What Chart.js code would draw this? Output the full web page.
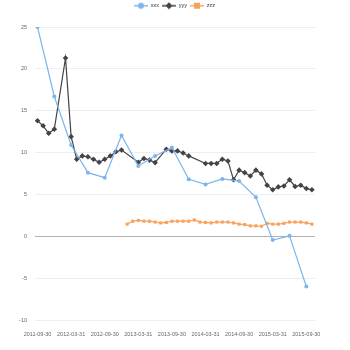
<!DOCTYPE html>
<html>
<head>
<meta charset="utf-8">
<script src="https://cdn.jsdelivr.net/npm/chart.js@4"></script>
<style>
  html, body { margin: 0; padding: 0; background: #fff; }
  #wrap { width: 350px; height: 350px; }
</style>
</head>
<body>
<div id="wrap"><canvas id="myChart"></canvas></div>
<script>
// months counted from 2011-09-30
const tickMonths = [0, 6, 12, 18, 24, 30, 36, 42, 48];
const tickLabels = ["2011-09-30", "2012-03-31", "2012-09-30", "2013-03-31", "2013-09-30",
                    "2014-03-31", "2014-09-30", "2015-03-31", "2015-09-30"];

const xxxMonths = [0, 3, 6, 9, 12, 15, 18, 21, 24, 27, 30, 33, 36, 39, 42, 45, 48];
const xxxValues = [25, 16.7, 10.9, 7.6, 7.0, 12.05, 8.4, 9.6, 10.6, 6.8, 6.2, 6.85, 6.6, 4.65, -0.45, 0.05, -6.0];

const yyyMonths = [0, 1, 2, 3, 5, 6, 7, 8, 9, 10, 11, 12, 13, 14, 15, 18, 19, 20, 21, 23, 24, 25, 26, 27,
                   30, 31, 32, 33, 34, 35, 36, 37, 38, 39, 40, 41, 42, 43, 44, 45, 46, 47, 48, 49];
const yyyValues = [13.8, 13.2, 12.3, 12.8, 21.3, 11.9, 9.2, 9.6, 9.5, 9.2, 8.85, 9.2, 9.6, 10.1, 10.3,
                   8.85, 9.3, 9.1, 8.8, 10.4, 10.2, 10.2, 9.95, 9.6,
                   8.7, 8.7, 8.7, 9.2, 9.0, 6.75, 7.9, 7.6, 7.2, 7.9, 7.45, 6.1, 5.55, 5.9, 6.0, 6.75, 5.95, 6.1, 5.7, 5.55];

const zzzMonths = [16, 17, 18, 19, 20, 21, 22, 23, 24, 25, 26, 27, 28, 29, 30, 31, 32, 33, 34, 35, 36,
                   37, 38, 39, 40, 41, 42, 43, 44, 45, 46, 47, 48, 49];
const zzzValues = [1.45, 1.8, 1.9, 1.8, 1.8, 1.7, 1.6, 1.65, 1.8, 1.8, 1.8, 1.8, 1.95, 1.7, 1.65, 1.6, 1.7,
                   1.7, 1.7, 1.6, 1.45, 1.4, 1.25, 1.25, 1.2, 1.55, 1.45, 1.45, 1.55, 1.7, 1.7, 1.7, 1.6, 1.45];

function toPoints(months, values) {
    return months.map((m, i) => ({ x: m, y: values[i] }));
}

// little line + marker icon for the legend
function legendIcon(color, style) {
    const c = document.createElement("canvas");
    c.width = 14; c.height = 8;
    const ctx = c.getContext("2d");
    ctx.strokeStyle = color;
    ctx.fillStyle = color;
    ctx.lineWidth = 1.5;
    ctx.beginPath(); ctx.moveTo(0, 4); ctx.lineTo(14, 4); ctx.stroke();
    ctx.beginPath();
    if (style === "circle") {
        ctx.arc(7, 4, 3, 0, Math.PI * 2);
    } else if (style === "rectRot") {
        ctx.moveTo(7, 0.5); ctx.lineTo(10.5, 4); ctx.lineTo(7, 7.5); ctx.lineTo(3.5, 4); ctx.closePath();
    } else {
        ctx.rect(4, 1, 6, 6);
    }
    ctx.fill();
    return c;
}

// taller legend box, centred on the whole canvas
const legendTweak = {
    id: "legendTweak",
    beforeInit(chart) {
        const fit = chart.legend.fit;
        chart.legend.fit = function () {
            fit.bind(chart.legend)();
            this.height = 27;
        };
    },
    afterLayout(chart) {
        chart.legend.left += 17;
        chart.legend.right += 17;
    }
};

const datasets = [
    { label: "xxx", data: toPoints(xxxMonths, xxxValues), borderColor: "#7cb5ec", backgroundColor: "#7cb5ec",
      pointStyle: "circle", pointRadius: 2 },
    { label: "yyy", data: toPoints(yyyMonths, yyyValues), borderColor: "#434348", backgroundColor: "#434348",
      pointStyle: "rectRot", pointRadius: 2.8 },
    { label: "zzz", data: toPoints(zzzMonths, zzzValues), borderColor: "#f7a35c", backgroundColor: "#f7a35c",
      pointStyle: "rect", pointRadius: 2.2 }
];
datasets.forEach(d => { d.borderWidth = 1.2; d.pointBorderWidth = 0; d.tension = 0; });

const smallFont = { family: "'Liberation Sans', Arial, sans-serif", size: 5.5 };

new Chart(document.getElementById("myChart"), {
    type: "line",
    data: { datasets },
    options: {
        responsive: true,
        maintainAspectRatio: false,
        animation: false,
        layout: { padding: { left: 0, right: 35, top: 0, bottom: 0 } },
        plugins: {
            tooltip: { enabled: false },
            legend: {
                position: "top",
                labels: {
                    usePointStyle: true,
                    pointStyleWidth: 14,
                    boxHeight: 6,
                    padding: 3,
                    color: "#333",
                    font: smallFont,
                    generateLabels(chart) {
                        return chart.data.datasets.map((d, i) => ({
                            text: d.label,
                            pointStyle: legendIcon(d.borderColor, d.pointStyle),
                            fontColor: "#333",
                            strokeStyle: d.borderColor,
                            fillStyle: d.borderColor,
                            lineWidth: 0,
                            datasetIndex: i
                        }));
                    }
                }
            }
        },
        scales: {
            x: {
                type: "linear",
                min: -0.45,
                max: 49.55,
                afterBuildTicks(scale) {
                    scale.ticks = tickMonths.map(v => ({ value: v }));
                },
                afterFit(scale) { scale.height = 30; },
                grid: { display: false },
                border: { display: false },
                ticks: {
                    autoSkip: false,
                    maxRotation: 0,
                    padding: 3,
                    color: "#666",
                    font: smallFont,
                    callback(v) {
                        const i = tickMonths.indexOf(v);
                        return i >= 0 ? tickLabels[i] : "";
                    }
                }
            },
            y: {
                min: -10,
                max: 25,
                afterFit(scale) { scale.width = 35; },
                border: { display: false },
                grid: {
                    drawTicks: false,
                    color: ctx => ctx.tick && ctx.tick.value === 0 ? "#b0b0b0" : "#eceef6",
                    lineWidth: 1
                },
                ticks: {
                    stepSize: 5,
                    padding: 8,
                    color: "#666",
                    font: smallFont
                }
            }
        }
    },
    plugins: [legendTweak]
});
</script>
</body>
</html>
